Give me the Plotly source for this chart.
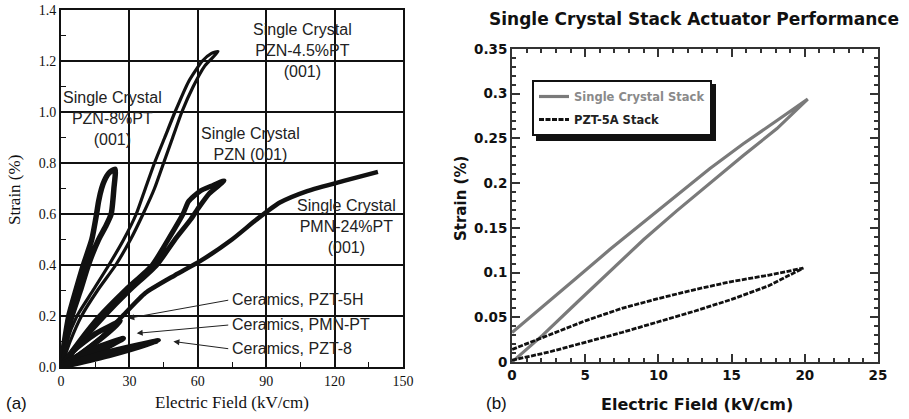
import plotly.graph_objects as go

# ---------------- panel (a): strain vs field, several materials ----------------
# each loop: rising branch then falling branch back to the origin
pzn8_E = [0, 2.2, 4.8, 8.5, 12, 16.5, 19.5, 22, 23.2, 23.7, 21, 19, 17.8, 16.5, 15.6, 13.5, 9.8, 6.5, 3.4, 1.5, 0]
pzn8_S = [0, 0.1, 0.2, 0.3, 0.4, 0.5, 0.55, 0.6, 0.7, 0.776, 0.76, 0.73, 0.7, 0.65, 0.6, 0.5, 0.4, 0.3, 0.2, 0.1, 0]

pzn45_E = [0, 4, 9, 16, 24, 30.5, 36, 41, 45, 49, 53, 58, 63, 68.9,
           66, 62, 56, 50, 45.5, 41, 37, 33, 27.5, 21, 14, 7, 2.5, 0]
pzn45_S = [0, 0.1, 0.2, 0.3, 0.4, 0.5, 0.6, 0.7, 0.8, 0.9, 1.0, 1.1, 1.18, 1.237,
           1.23, 1.2, 1.12, 1.0, 0.9, 0.8, 0.7, 0.6, 0.5, 0.4, 0.3, 0.2, 0.1, 0]

pzn_E = [0, 9, 19, 30, 42, 50, 57, 60, 65, 71.5, 66, 61, 56, 53.5, 47, 40, 28, 17, 8, 0]
pzn_S = [0, 0.1, 0.2, 0.3, 0.4, 0.5, 0.58, 0.62, 0.68, 0.73, 0.71, 0.69, 0.65, 0.6, 0.5, 0.4, 0.3, 0.2, 0.1, 0]

pmn24_E = [0, 8, 17, 27, 37, 50, 61, 75, 86, 96, 108, 124, 139]
pmn24_S = [0, 0.05, 0.11, 0.2, 0.29, 0.36, 0.415, 0.5, 0.58, 0.645, 0.69, 0.73, 0.765]

pzt5h_E = [0, 13, 26, 15, 5, 0]
pzt5h_S = [0, 0.08, 0.178, 0.13, 0.06, 0]
pmnpt_E = [0, 14, 27.3, 14, 0]
pmnpt_S = [0, 0.05, 0.112, 0.07, 0.01]
pzt8_E = [0, 21, 42.7, 21, 0]
pzt8_S = [0, 0.045, 0.103, 0.06, 0.005]

# ---------------- panel (b): stack actuators ----------------
sc_E = [0, 2.1, 4.4, 6.7, 9, 11.25, 13.5, 15.8, 18.1, 20.2,
        18.1, 15.8, 13.5, 11.25, 9, 6.7, 4.4, 2.1, 0]
sc_S = [0, 0.03, 0.066, 0.101, 0.137, 0.169, 0.2, 0.231, 0.261, 0.294,
        0.27, 0.244, 0.216, 0.186, 0.156, 0.126, 0.094, 0.062, 0.033]

pzt5a_E = [0, 2.5, 5, 7.5, 10, 12.5, 15, 17.5, 19.9,
           17.5, 15, 12.5, 10, 7.5, 5, 2.5, 0]
pzt5a_S = [0.002, 0.011, 0.022, 0.033, 0.045, 0.057, 0.07, 0.085, 0.105,
           0.097, 0.09, 0.081, 0.071, 0.06, 0.046, 0.03, 0.014]

W, H = 909, 419
def px(x):
    return x / W
def py(y):
    return 1 - y / H

serif = "Liberation Serif"
sans = "Liberation Sans"
bold = "DejaVu Sans"

fig = go.Figure()

left_curves = [
    (pzn8_E, pzn8_S, 5.5),
    (pzn45_E, pzn45_S, 3.2),
    (pzn_E, pzn_S, 5),
    (pmn24_E, pmn24_S, 4.5),
    (pzt5h_E, pzt5h_S, 5.5),
    (pmnpt_E, pmnpt_S, 5.5),
    (pzt8_E, pzt8_S, 5.5),
]
for xs, ys, w in left_curves:
    fig.add_trace(go.Scatter(
        x=xs, y=ys, mode="lines", xaxis="x", yaxis="y", showlegend=False,
        line=dict(color="#111", width=w, shape="spline", smoothing=0.6),
    ))

fig.add_trace(go.Scatter(
    x=sc_E, y=sc_S, mode="lines", xaxis="x2", yaxis="y2", legendgroup="sc",
    name="<span style='color:#8a8a8a'>Single Crystal Stack</span>",
    line=dict(color="#7a7a7a", width=3.2),
))
fig.add_trace(go.Scatter(
    x=pzt5a_E, y=pzt5a_S, mode="lines", xaxis="x2", yaxis="y2", legendgroup="pzt",
    name="<span style='color:#222'>PZT-5A Stack</span>",
    line=dict(color="#111", width=2.8, dash="5px,1.5px"),
))

left_axis = dict(
    showgrid=True, gridcolor="#111", gridwidth=1.5, zeroline=False,
    showline=True, linecolor="#111", linewidth=2, mirror=True,
    ticks="inside", ticklen=5, tickcolor="#111", automargin=False,
    tickfont=dict(family=serif, size=14, color="#111"),
)
right_axis = dict(
    showgrid=False, zeroline=False, automargin=False,
    showline=True, linecolor="#333", linewidth=2, mirror="allticks",
    ticks="inside", ticklen=8, tickwidth=1.5, tickcolor="#333",
    tickfont=dict(family=bold, size=13.5, color="#111", weight="bold"),
)

annotations = [
    dict(x=22.6, y=0.973, xref="x", yref="y", text="Single Crystal<br>PZN-8%PT<br>(001)"),
    dict(x=106, y=1.24, xref="x", yref="y", text="Single Crystal<br>PZN-4.5%PT<br>(001)"),
    dict(x=83.3, y=0.875, xref="x", yref="y", text="Single Crystal<br>PZN (001)"),
    dict(x=125, y=0.55, xref="x", yref="y", text="Single Crystal<br>PMN-24%PT<br>(001)"),
]
for a in annotations:
    a.update(showarrow=False, font=dict(family=sans, size=16, color="#222"))

ceramics = [("Ceramics, PZT-5H", 0.263, 29.5, 0.191),
            ("Ceramics, PMN-PT", 0.165, 33.2, 0.132),
            ("Ceramics, PZT-8", 0.071, 49.3, 0.1)]
for label, ty, hx, hy in ceramics:
    annotations.append(dict(x=74, y=ty, xref="x", yref="y", text=label, showarrow=False,
                            xanchor="left", yanchor="middle",
                            font=dict(family=sans, size=16, color="#222")))
    annotations.append(dict(x=hx, y=hy, xref="x", yref="y", ax=74, ay=ty, axref="x", ayref="y",
                            text="", showarrow=True, arrowhead=2, arrowsize=1.2,
                            arrowwidth=1, arrowcolor="#222"))

page_text = [
    (232, 402, "Electric Field (kV/cm)", "center", 0, dict(family=serif, size=17, color="#111")),
    (14, 190, "Strain (%)", "center", -90, dict(family=serif, size=17, color="#111")),
    (4, 403, "(a)", "left", 0, dict(family=sans, size=17, color="#111")),
    (484, 403, "(b)", "left", 0, dict(family=sans, size=17, color="#111")),
    (694, 19, "Single Crystal Stack Actuator Performance", "center", 0,
     dict(family=bold, size=17, color="#111", weight="bold")),
    (697, 404, "Electric Field (kV/cm)", "center", 0,
     dict(family=bold, size=16, color="#111", weight="bold")),
    (461, 198, "Strain (%)", "center", -90,
     dict(family=bold, size=15, color="#111", weight="bold")),
]
for x, y, t, xa, ang, f in page_text:
    annotations.append(dict(x=px(x), y=py(y), xref="paper", yref="paper", text=t,
                            xanchor=xa, yanchor="middle", textangle=ang,
                            showarrow=False, font=f))

fig.update_layout(
    width=W, height=H,
    margin=dict(l=0, r=0, t=0, b=0, autoexpand=False),
    paper_bgcolor="white", plot_bgcolor="white",
    xaxis=dict(left_axis, domain=[px(61), px(403)], range=[0, 150], dtick=30,
               minor=dict(dtick=15, ticks="inside", ticklen=5, tickcolor="#111", showgrid=False),
               anchor="y"),
    yaxis=dict(left_axis, domain=[py(367), py(10)], range=[0, 1.4], dtick=0.2, tickformat=".1f",
               minor=dict(dtick=0.1, ticks="inside", ticklen=5, tickcolor="#111", showgrid=False),
               anchor="x"),
    xaxis2=dict(right_axis, domain=[px(512), px(878)], range=[0, 25], dtick=5,
                minor=dict(dtick=1, ticks="inside", ticklen=4, tickcolor="#333"),
                anchor="y2"),
    yaxis2=dict(right_axis, domain=[py(362), py(49)], range=[0, 0.35], dtick=0.05,
                minor=dict(dtick=0.01, ticks="inside", ticklen=4, tickcolor="#333"),
                anchor="x2"),
    legend=dict(x=px(532), y=py(80), xanchor="left", yanchor="top",
                bgcolor="white", bordercolor="#111", borderwidth=2, tracegroupgap=4,
                font=dict(family=bold, size=11.5, weight="bold"), itemwidth=30),
    shapes=[dict(type="rect", xref="paper", yref="paper",
                 x0=px(536), x1=px(716), y0=py(141), y1=py(84),
                 fillcolor="#111", line=dict(width=0), layer="above")],
    annotations=annotations,
)

# the page body keeps its default 8px margin otherwise
fig.write_html("out.html", config={"displayModeBar": False},
               post_script="document.body.style.margin='0';document.body.style.overflow='hidden';")
